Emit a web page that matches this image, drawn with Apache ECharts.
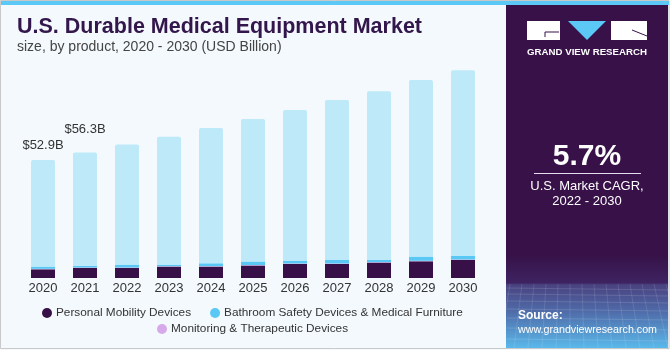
<!DOCTYPE html>
<html>
<head>
<meta charset="utf-8">
<script src="https://cdn.jsdelivr.net/npm/echarts@6/dist/echarts.min.js"></script>
<style>html,body{margin:0;padding:0;background:#fff}#c{width:670px;height:350px}</style>
</head>
<body>
<div id="c"></div>
<script>
var years = ['2020','2021','2022','2023','2024','2025','2026','2027','2028','2029','2030'];
var totals = [52.9, 56.3, 59.9, 63.3, 67.3, 71.3, 75.3, 79.8, 83.8, 88.8, 93.2];
var personalMobility = [3.9, 4.5, 4.5, 5.1, 5.1, 5.6, 6.3, 6.3, 6.9, 7.5, 8.1];
var monitoring = [0.2, 0.2, 0.2, 0.2, 0.2, 0.2, 0.2, 0.2, 0.2, 0.2, 0.2];
var bathroom = [1.0, 0.8, 1.3, 0.7, 1.3, 1.6, 1.3, 1.7, 1.1, 1.9, 1.7];
var labeledYears = ['2020', '2021'];
var names = ['Personal Mobility Devices', 'Bathroom Safety Devices & Medical Furniture', 'Monitoring & Therapeutic Devices'];

var rest = totals.map(function (t, i) {
  return +(t - personalMobility[i] - monitoring[i] - bathroom[i]).toFixed(2);
});
var labelOffsets = { '2020': [0, -3], '2021': [0, -12] };
var restData = rest.map(function (v, i) {
  if (labeledYears.indexOf(years[i]) >= 0) {
    return { value: v, label: { show: true, offset: labelOffsets[years[i]] } };
  }
  return v;
});

var font = 'Liberation Sans, Arial, sans-serif';
var chart = echarts.init(document.getElementById('c'), null, { renderer: 'canvas' });

var gridLines = [];
var hy = [288, 294, 301, 309, 318, 328, 339];
hy.forEach(function (y) {
  gridLines.push({ type: 'line', shape: { x1: 507, y1: y, x2: 668, y2: y + 2 }, style: { stroke: 'rgba(255,255,255,0.13)', lineWidth: 1 }, z: 3 });
});
for (var k = 0; k < 14; k++) {
  var xt = 510 + k * 12;
  var xb = 500 + k * 14;
  gridLines.push({ type: 'line', shape: { x1: xt, y1: 284, x2: xb, y2: 348 }, style: { stroke: 'rgba(255,255,255,0.11)', lineWidth: 1 }, z: 3 });
}

var option = {
  backgroundColor: '#f3f9fd',
  animation: false,
  textStyle: { fontFamily: font },
  grid: { left: 22, right: 186, top: 55, bottom: 72, containLabel: false },
  xAxis: {
    type: 'category',
    data: years,
    axisLine: { show: false },
    axisTick: { show: false },
    axisLabel: { color: '#333', fontSize: 13, fontFamily: font, margin: 4 }
  },
  yAxis: { type: 'value', min: 0, max: 100, show: false, splitLine: { show: false } },
  legend: [
    {
      data: [names[0], names[1]],
      left: 42, top: 307,
      icon: 'circle', itemWidth: 10, itemHeight: 10, itemGap: 19,
      textStyle: { color: '#333', fontSize: 11.8, fontFamily: font, padding: [0, 0, 0, -1] },
      padding: 0
    },
    {
      data: [names[2]],
      left: 157, top: 323,
      icon: 'circle', itemWidth: 10, itemHeight: 10,
      textStyle: { color: '#333', fontSize: 11.8, fontFamily: font, padding: [0, 0, 0, -1] },
      padding: 0
    }
  ],
  series: [
    { name: names[0], type: 'bar', stack: 's', data: personalMobility, barWidth: 24, itemStyle: { color: '#371047' } },
    { name: names[2], type: 'bar', stack: 's', data: monitoring, itemStyle: { color: '#d7a8ea' } },
    { name: names[1], type: 'bar', stack: 's', data: bathroom, itemStyle: { color: '#5ac8f5' } },
    {
      name: 'Other', type: 'bar', stack: 's', data: restData,
      itemStyle: { color: '#bde9f9', borderRadius: [2, 2, 0, 0] },
      label: {
        show: false, position: 'top', distance: 5, color: '#333', fontSize: 13, fontFamily: font,
        formatter: function (p) { return '$' + totals[p.dataIndex].toFixed(1) + 'B'; }
      }
    }
  ],
  graphic: [
    { type: 'rect', shape: { x: 0.5, y: 0.5, width: 668.5, height: 348 }, style: { fill: 'none', stroke: '#c9c9c9', lineWidth: 1 }, z: 1 },
    { type: 'rect', shape: { x: 1, y: 1, width: 668, height: 4 }, style: { fill: '#5bc8f5' }, z: 2 },
    { type: 'text', left: 17, top: 16, style: { text: 'U.S. Durable Medical Equipment Market', fill: '#33164b', font: 'bold 21.5px ' + font }, z: 5 },
    { type: 'text', left: 17, top: 40, style: { text: 'size, by product, 2020 - 2030 (USD Billion)', fill: '#444', font: '14px ' + font }, z: 5 },
    { type: 'rect', shape: { x: 506, y: 5, width: 162, height: 343 }, style: { fill: '#371148' }, z: 2 },
    { type: 'rect', shape: { x: 506, y: 255, width: 162, height: 93 }, style: { fill: new echarts.graphic.LinearGradient(0, 0, 0, 1, [
      { offset: 0, color: '#371148' }, { offset: 0.3, color: '#3e2361' }, { offset: 0.32, color: '#4a4280' }, { offset: 0.6, color: '#4f6aa8' }, { offset: 1, color: '#5ab8ea' }
    ]) }, z: 2 },
    { type: 'group', children: gridLines },
    { type: 'rect', shape: { x: 527, y: 21, width: 33, height: 19 }, style: { fill: '#fff' }, z: 4 },
    { type: 'polyline', shape: { points: [[545, 32], [559, 32]] }, style: { stroke: '#371148', lineWidth: 1 }, z: 5 },
    { type: 'polyline', shape: { points: [[545, 32], [545, 37]] }, style: { stroke: '#371148', lineWidth: 1 }, z: 5 },
    { type: 'polygon', shape: { points: [[568, 21], [606, 21], [587, 40]] }, style: { fill: '#5bc8f5' }, z: 4 },
    { type: 'rect', shape: { x: 611, y: 21, width: 36, height: 19 }, style: { fill: '#fff' }, z: 4 },
    { type: 'polyline', shape: { points: [[632, 30], [647, 36]] }, style: { stroke: '#371148', lineWidth: 1 }, z: 5 },
    { type: 'text', x: 587, y: 52, style: { text: 'GRAND VIEW RESEARCH', fill: '#fff', font: 'bold 9.7px ' + font, align: 'center', verticalAlign: 'middle' }, z: 5 },
    { type: 'text', x: 587, y: 157, style: { text: '5.7%', fill: '#fff', font: 'bold 30px ' + font, align: 'center', verticalAlign: 'middle' }, z: 5 },
    { type: 'line', shape: { x1: 534, y1: 173.5, x2: 641, y2: 173.5 }, style: { stroke: '#e6dcee', lineWidth: 1 }, z: 5 },
    { type: 'text', x: 587, y: 186, style: { text: 'U.S. Market CAGR,', fill: '#fff', font: '13px ' + font, align: 'center', verticalAlign: 'middle' }, z: 5 },
    { type: 'text', x: 587, y: 201, style: { text: '2022 - 2030', fill: '#fff', font: '13px ' + font, align: 'center', verticalAlign: 'middle' }, z: 5 },
    { type: 'text', x: 518, y: 316, style: { text: 'Source:', fill: '#fff', font: 'bold 12px ' + font, verticalAlign: 'middle' }, z: 5 },
    { type: 'text', x: 518, y: 330, style: { text: 'www.grandviewresearch.com', fill: '#fff', font: '10.7px ' + font, verticalAlign: 'middle' }, z: 5 }
  ]
};
chart.setOption(option);
</script>
</body>
</html>
